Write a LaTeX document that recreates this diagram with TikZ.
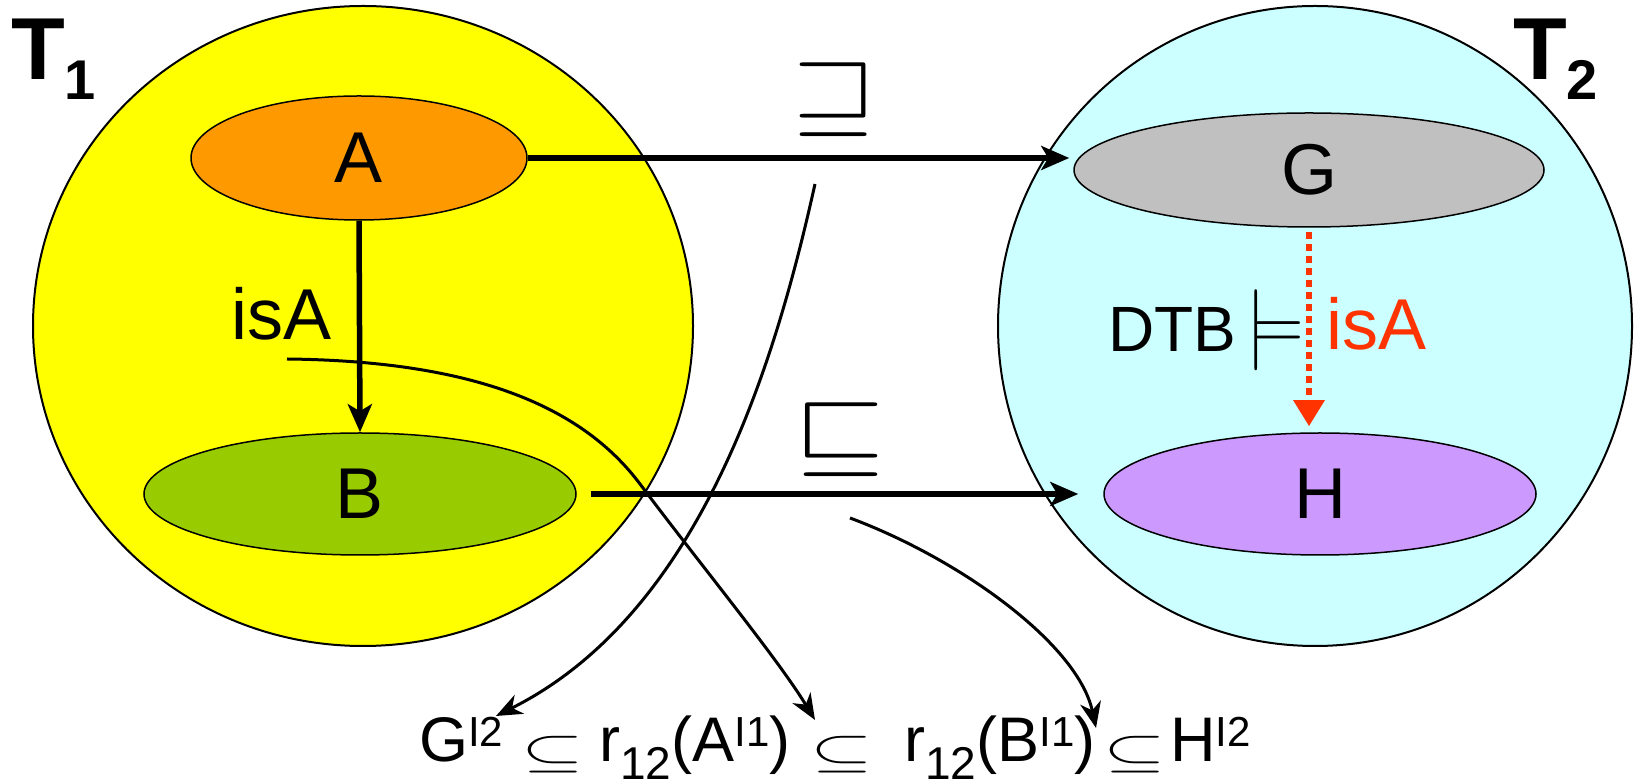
\documentclass[tikz,border=0pt]{standalone}
\usepackage{fix-cm}
\usepackage{graphicx}
\usepackage{fontspec}
\setmainfont{Liberation Sans}
\usetikzlibrary{arrows.meta,shapes.geometric}
\definecolor{OntoYellow}{HTML}{FFFF00}
\definecolor{OntoCyan}{HTML}{CCFFFF}
\definecolor{ConceptA}{HTML}{FF9900}
\definecolor{ConceptB}{HTML}{99CC00}
\definecolor{ConceptG}{HTML}{C0C0C0}
\definecolor{ConceptH}{HTML}{CC99FF}
\definecolor{DerivedRed}{HTML}{FF3300}
\newcommand{\supidx}[1]{\raisebox{15pt}{\fontsize{42}{42}\selectfont #1}}
\newcommand{\subidx}[1]{\raisebox{-18pt}{\fontsize{46}{46}\selectfont #1}}
\newcommand{\inclsym}{\raisebox{-5pt}{\scalebox{1.1}[0.65]{\fontsize{73}{73}\selectfont$\subseteq$}}}
\tikzset{
  every node/.style={inner sep=0pt, text=black},
  region/.style={draw=black, line width=2pt},
  concept/.style={ellipse, draw=black, line width=1.5pt, font=\fontsize{72}{72}\selectfont},
  subsume/.style={-{Stealth[length=28pt,width=24pt,inset=7pt]}, line width=5.5pt},
  derived/.style={-{Triangle[length=26pt,width=30pt]}, draw=DerivedRed, line width=6pt, dash pattern=on 7pt off 5pt},
  pointer/.style={-{Stealth[length=26pt,width=21pt,inset=8pt]}, line width=3pt},
  formula/.style={anchor=base west, font=\fontsize{63}{63}\selectfont},
  biglabel/.style={font=\fontsize{72}{72}\selectfont, anchor=base west},
}

\begin{document}
\begin{tikzpicture}[x=1pt,y=1pt]
  \useasboundingbox (0,0) rectangle (1635,784);
  % the two ontologies
  \draw[region, fill=OntoYellow] (363,458) ellipse [x radius=330, y radius=320];
  \draw[region, fill=OntoCyan] (1315,458) ellipse [x radius=317, y radius=320];
  \node[anchor=base west, font=\fontsize{88}{88}\selectfont\bfseries] (tone) at (11,704)
    {T\raisebox{-20pt}{\fontsize{56}{56}\selectfont 1}};
  \node[anchor=base west, font=\fontsize{88}{88}\selectfont\bfseries] (ttwo) at (1513,704)
    {T\raisebox{-20pt}{\fontsize{56}{56}\selectfont 2}};

  \node[concept, fill=ConceptA, minimum width=336pt, minimum height=124pt] (A) at (359,626) {A};
  \node[concept, fill=ConceptB, minimum width=432pt, minimum height=122pt] (B) at (360,290) {B};
  \node[concept, fill=ConceptG, minimum width=470pt, minimum height=114pt] (G) at (1309,614) {G};
  \node[concept, fill=ConceptH, minimum width=432pt, minimum height=122pt] (H) at (1320,290) {H};

  \draw[subsume, shorten >=4pt] (A.east) -- (A.east -| G.west);
  \draw[subsume] (A.south) -- (B.north);
  \draw[subsume, shorten <=14pt, shorten >=25pt] (B.east) -- (H.west);
  \draw[derived, shorten <=4pt, shorten >=6pt] (G.south) -- (G.south |- H.north);

  % labels
  \node[biglabel] (isa) at (231,444) {isA};
  \node (sqsup) at (835,684) {\scalebox{1}[0.9]{\fontsize{106}{106}\selectfont$\sqsupseteq$}};
  \node (sqsub) at (840,344) {\scalebox{1.1}[0.9]{\fontsize{106}{106}\selectfont$\sqsubseteq$}};
  \node[anchor=base west, font=\fontsize{64}{64}\selectfont] (dtb) at (1108,432) {DTB};
  \node (models) at (1275,454) {\scalebox{0.86}[1]{\fontsize{81}{81}\selectfont$\models$}};
  \node[biglabel, text=DerivedRed] (isared) at (1326,434) {isA};

  % semantics
  \node[formula] (gterm) at (419,22) {G\supidx{I2}};
  \node[formula] (incl1) at (521,22) {\inclsym};
  \node[formula] (rA) at (599,22) {r\subidx{12}(A\supidx{I1})};
  \node[formula] (incl2) at (810,22) {\inclsym};
  \node[formula] (rB) at (904,22) {r\subidx{12}(B\supidx{I1})};
  \node[formula] (incl3) at (1103,22) {\inclsym};
  \node[formula] (hterm) at (1170,22) {H\supidx{I2}};

  \coordinate (suptail) at (815,600);
  \coordinate (isatail) at (287,425);
  \coordinate (subtail) at (850,266);
  \coordinate (gtip) at (496,68);
  \coordinate (atip) at (815,64);
  \coordinate (btip) at (1096,56);
  \draw[pointer] (suptail) .. controls (775,420) and (700,170) .. (gtip);
  \draw[pointer] (isatail) .. controls (470,423) and (580,380) .. (640,300)
    .. controls (700,220) and (778,125) .. (atip);
  \draw[pointer] (subtail) .. controls (960,225) and (1078,140) .. (btip);
\end{tikzpicture}
\end{document}
